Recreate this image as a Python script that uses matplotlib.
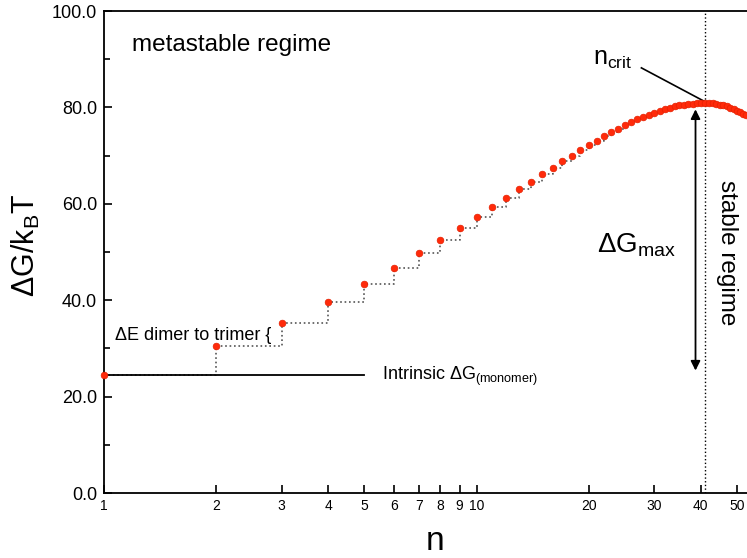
import matplotlib
matplotlib.use("Agg")
import matplotlib.pyplot as plt
from matplotlib.ticker import FixedLocator, FixedFormatter, MultipleLocator, FormatStrFormatter

plt.rcParams['font.family'] = ['Liberation Sans', 'DejaVu Sans']

# cluster size n and free energy dG/kBT
n_values = list(range(1, 54))
dG_values = [24.4, 30.4, 35.3, 39.7, 43.4, 46.7, 49.8, 52.5, 55.0, 57.3,
             59.3, 61.2, 63.0, 64.6, 66.1, 67.5, 68.8, 70.0, 71.1, 72.1,
             73.1, 74.0, 74.8, 75.6, 76.3, 76.9, 77.5, 78.0, 78.5, 78.9,
             79.3, 79.6, 79.9, 80.2, 80.4, 80.6, 80.7, 80.8, 80.9, 80.95,
             81.0, 80.95, 80.9, 80.8, 80.6, 80.4, 80.2, 79.9, 79.6, 79.3,
             79.0, 78.7, 78.4]
n_crit = 41
dG_monomer = 24.4
x_ticks = [1, 2, 3, 4, 5, 6, 7, 8, 9, 10, 20, 30, 40, 50]
x_ticklabels = ['1', '2', '3', '4', '5', '6', '7', '8', '9', '10', '20', '30', '40', '50']

fig = plt.figure(figsize=(7.47, 5.58), dpi=100)
ax = fig.add_axes([104/747, 1 - 493/558, 1 - 104/747, 482/558])

ax.set_xscale('log')
ax.set_xlim(1, 53.2)
ax.set_ylim(0, 100)

# dotted staircase
ax.step(n_values, dG_values, where='post', ls=':', color='#555555', lw=1.2, zorder=2)
# points
ax.plot(n_values, dG_values, 'o', color='#ff2a0a', markersize=4.8,
        markeredgecolor='#e52000', markeredgewidth=0.5, zorder=4, clip_on=False)

# intrinsic monomer line
ax.plot([1, 5.0], [dG_monomer, dG_monomer], color='black', lw=1.3, zorder=3)
# critical size dotted line
ax.axvline(n_crit, ls=':', color='black', lw=1.0, zorder=1)

# double arrow dG_max
ax.annotate('', xy=(38.7, 79.6), xytext=(38.7, 25.4),
            arrowprops=dict(arrowstyle='<|-|>', color='black', lw=1.3,
                            mutation_scale=14, shrinkA=0, shrinkB=0))
# n_crit leader
ax.plot([27.7, n_crit], [88.2, 81.2], color='black', lw=1.2)

ax.text(1.19, 91.7, 'metastable regime', fontsize=17.5, ha='left', va='baseline')
ax.text(20.5, 88.8, r'$\mathregular{n_{crit}}$', fontsize=18, ha='left', va='baseline')
ax.text(21.0, 49.8, r'$\mathregular{ΔG_{max}}$', fontsize=20, ha='left', va='baseline')
ax.text(46.9, 49.8, 'stable regime', fontsize=17.5, rotation=270, ha='center', va='center')
ax.text(1.07, 31.7, 'ΔE dimer to trimer {', fontsize=13, ha='left', va='baseline')
ax.text(5.56, 23.5, r'Intrinsic $\mathregular{ΔG_{(monomer)}}$', fontsize=13, ha='left', va='baseline')

# ticks
ax.xaxis.set_major_locator(FixedLocator(x_ticks))
ax.xaxis.set_major_formatter(FixedFormatter(x_ticklabels))
ax.xaxis.set_minor_locator(FixedLocator([]))
ax.yaxis.set_major_locator(MultipleLocator(20))
ax.yaxis.set_minor_locator(MultipleLocator(10))
ax.yaxis.set_major_formatter(FormatStrFormatter('%.1f'))
ax.tick_params(axis='x', which='major', direction='in', length=6, width=1.2, labelsize=10, pad=4)
ax.tick_params(axis='y', which='major', direction='in', length=6, width=1.2, labelsize=13, pad=5)
ax.tick_params(axis='y', which='minor', direction='in', length=4, width=1.2)

for s in ['left', 'bottom', 'top']:
    ax.spines[s].set_linewidth(1.3)
ax.spines['right'].set_visible(False)

fig.text(26/747, 1 - 245/558, r'$\mathregular{ΔG/k_BT}$', fontsize=22, rotation=90, ha='center', va='center')
fig.text(435/747, 1 - 541/558, 'n', fontsize=24, ha='center', va='center')

fig.savefig('out.png', dpi=100)
